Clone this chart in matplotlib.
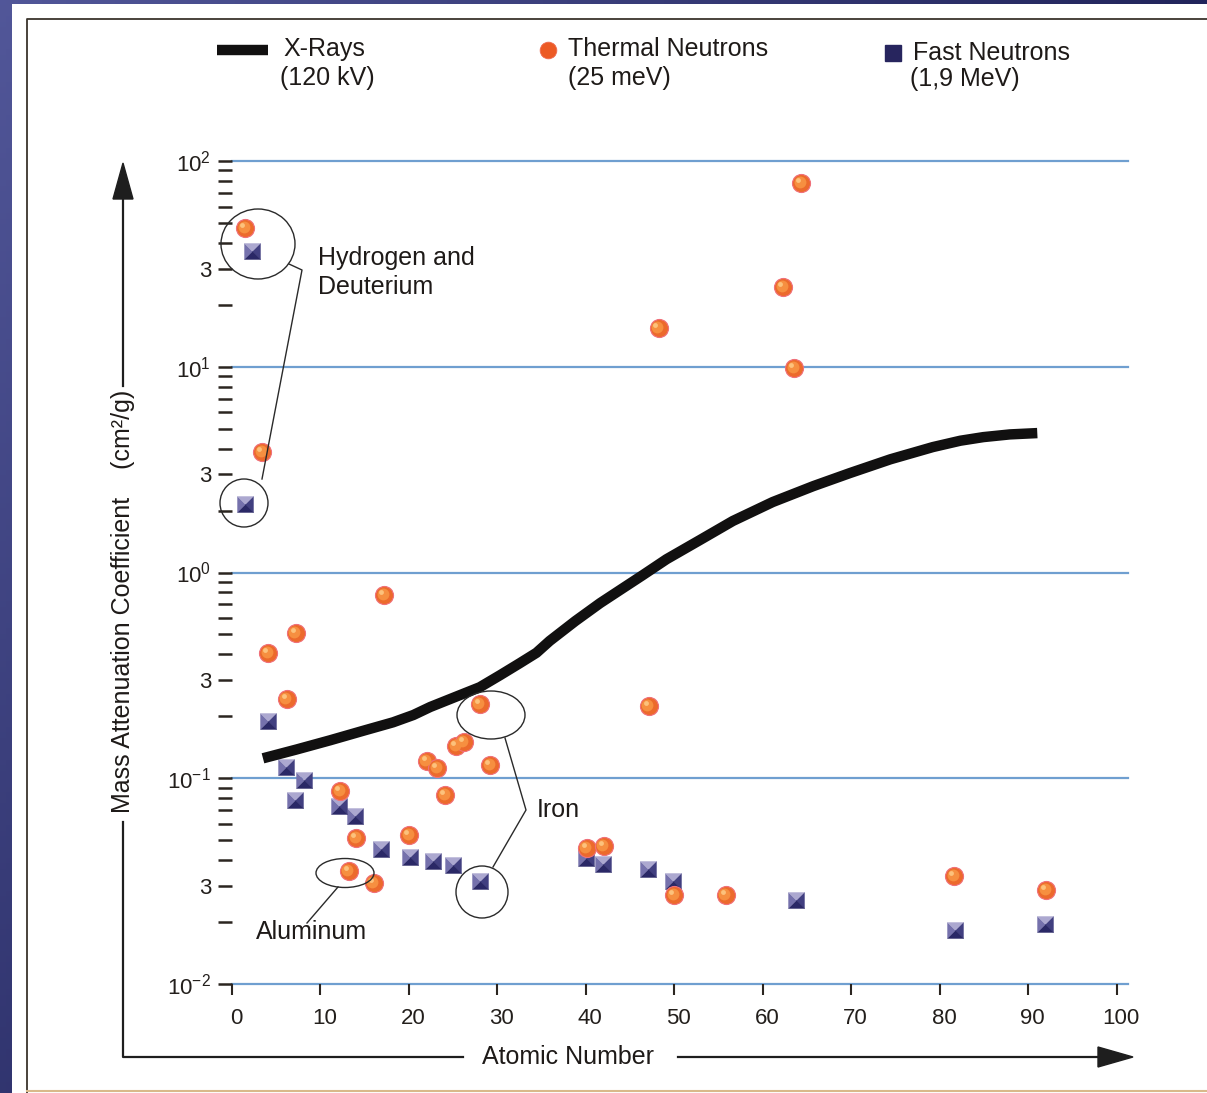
import numpy as np
import matplotlib
matplotlib.use("Agg")
import matplotlib.pyplot as plt
from matplotlib.patches import Ellipse, Rectangle, Polygon
from matplotlib.lines import Line2D
from matplotlib.ticker import FixedLocator, NullFormatter
from matplotlib import transforms

plt.rcParams['font.family'] = ['Liberation Sans', 'DejaVu Sans']
plt.rcParams['mathtext.fontset'] = 'custom'
plt.rcParams['mathtext.rm'] = 'Liberation Sans'

# ---- data ----
# X-rays (120 kV), mass attenuation coefficient vs atomic number
xray_z = [3.5, 7.3, 11.1, 14.8, 18.2, 20.5, 22.4, 25.4, 28.0, 30.3, 32.5, 34.4, 35.9, 38.8, 41.6,
          44.0, 46.4, 49.1, 52.9, 56.6, 61.1, 65.7, 69.8, 74.4, 79.2, 82.3, 84.9, 87.9, 91.0]
xray_mu = [0.125, 0.138, 0.153, 0.170, 0.187, 0.203, 0.222, 0.250, 0.277, 0.317, 0.362, 0.407, 0.465, 0.581, 0.710,
           0.830, 0.97, 1.16, 1.44, 1.78, 2.20, 2.63, 3.04, 3.55, 4.07, 4.37, 4.55, 4.69, 4.76]

# thermal neutrons (25 meV)
thermal_z = [1.5, 3.4, 4.1, 6.2, 7.2, 12.2, 13.2, 14.0, 16.0, 17.2, 20.0, 22.0, 23.2, 24.1,
             25.3, 26.2, 28.0, 29.2, 40.1, 42.0, 47.1, 48.2, 50.0, 55.8, 62.3, 63.5, 64.3, 81.6, 92.0]
thermal_mu = [47.2, 3.85, 0.406, 0.242, 0.507, 0.0865, 0.0353, 0.0512, 0.0309, 0.776, 0.0528, 0.121, 0.112, 0.0828,
              0.143, 0.150, 0.229, 0.116, 0.0457, 0.0467, 0.224, 15.4, 0.027, 0.027, 24.4, 9.86, 78.2, 0.0334, 0.0286]

# fast neutrons (1,9 MeV)
fast_z = [2.3, 1.5, 4.1, 6.1, 7.1, 8.1, 12.1, 13.9, 16.8, 20.1, 22.7, 25.0, 28.0,
          40.0, 41.9, 47.0, 49.8, 63.7, 81.7, 91.9]
fast_mu = [36.5, 2.15, 0.19, 0.113, 0.078, 0.098, 0.073, 0.0655, 0.0452, 0.0413, 0.0395, 0.0378, 0.0316,
           0.0409, 0.0382, 0.0361, 0.0316, 0.0255, 0.0183, 0.0195]

x_ticks = [0, 10, 20, 30, 40, 50, 60, 70, 80, 90, 100]
decades = [0.01, 0.1, 1, 10, 100]
decade_labels = ['$\\mathregular{10^{-2}}$', '$\\mathregular{10^{-1}}$', '$\\mathregular{10^{0}}$',
                 '$\\mathregular{10^{1}}$', '$\\mathregular{10^{2}}$']

W, H = 1207, 1093
fig = plt.figure(figsize=(W / 100, H / 100), dpi=100)


def fx(x):
    return x / W


def fy(y):
    return 1 - y / H


# slide background (navy gradient) and the white page
bg = fig.add_axes([0, 0, 1, 1], zorder=-10)
gy, gx = np.mgrid[0:1:200j, 0:1:200j]
grad = np.clip(1 - 0.9 * gx - 0.6 * gy, 0, 1)
c_dark = np.array([0.11, 0.12, 0.33])
c_light = np.array([0.32, 0.34, 0.60])
img = c_dark + grad[..., None] * (c_light - c_dark)
bg.imshow(img, extent=[0, 1, 0, 1], aspect='auto', origin='upper')
bg.axis('off')
fig.add_artist(Rectangle((fx(12), 0), 1, fy(4), transform=fig.transFigure,
                         facecolor='white', edgecolor='none', zorder=-5))
fig.add_artist(Line2D([fx(27), fx(27), 1], [0, fy(19), fy(19)], transform=fig.transFigure,
                      color='#3a342c', lw=1.3, zorder=-4))
fig.add_artist(Line2D([fx(27), 1], [fy(1091), fy(1091)], transform=fig.transFigure,
                      color='#d9b98a', lw=1.5, zorder=-4))

# ---- main axes ----
ax = fig.add_axes([fx(232), fy(984), fx(1128) - fx(232), fy(161) - fy(984)])
ax.set_facecolor('none')
ax.set_yscale('log')
ax.set_xlim(0, 101.25)
ax.set_ylim(0.01, 100)
for s in ax.spines.values():
    s.set_visible(False)

for d in decades:
    ax.axhline(d, color='#6f9fd0', lw=1.6, zorder=1, clip_on=False)

major = []
labels = []
for d, lab in zip(decades, decade_labels):
    major.append(d)
    labels.append(lab)
    if d < 100:
        major.append(3 * d)
        labels.append('3')
minor = [m * d for d in decades[:-1] for m in (2, 4, 5, 6, 7, 8, 9)]
ax.yaxis.set_major_locator(FixedLocator(major))
ax.set_yticklabels(labels)
ax.yaxis.set_minor_locator(FixedLocator(minor))
ax.yaxis.set_minor_formatter(NullFormatter())
ax.tick_params(axis='y', which='both', direction='out', length=10, width=1.8,
               color='#2b2520', pad=5, labelsize=16, labelcolor='#231f1c')
ax.set_xticks(x_ticks)
ax.tick_params(axis='x', direction='out', length=8, width=1.5, color='#2b2520',
               pad=9, labelsize=16, labelcolor='#231f1c')
shift = transforms.ScaledTranslation(4 / 100, 0, fig.dpi_scale_trans)
for lab in ax.get_xticklabels():
    lab.set_transform(lab.get_transform() + shift)

# fast neutrons: shaded "pyramid" squares
tri_top = [(-1, 1), (1, 1), (0, 0)]
tri_left = [(-1, 1), (-1, -1), (0, 0)]
tri_right = [(1, 1), (1, -1), (0, 0)]
tri_bot = [(-1, -1), (1, -1), (0, 0)]
for verts, col in [(tri_top, '#aca8d0'), (tri_left, '#7571ac'),
                   (tri_right, '#413f80'), (tri_bot, '#2a2866')]:
    ax.plot(fast_z, fast_mu, ls='none', marker=verts, ms=11.5, mfc=col, mec=col, mew=0.3, zorder=3)

# thermal neutrons: shaded orange balls
off1 = transforms.offset_copy(ax.transData, fig=fig, x=-1.0, y=1.0, units='points')
off2 = transforms.offset_copy(ax.transData, fig=fig, x=-2.2, y=2.2, units='points')
ax.plot(thermal_z, thermal_mu, ls='none', marker='o', ms=13, mfc='#ec6a2c', mec='#f0707a', mew=0.8, zorder=4)
ax.plot(thermal_z, thermal_mu, ls='none', marker='o', ms=8.5, mfc='#f68f40', mec='none', zorder=5,
        transform=off1)
ax.plot(thermal_z, thermal_mu, ls='none', marker='o', ms=3.5, mfc='#fcc27c', mec='none', zorder=6,
        transform=off2)

# x-ray curve
ax.plot(xray_z, xray_mu, color='#111010', lw=7.5, solid_capstyle='butt', solid_joinstyle='round', zorder=7)

# ---- annotations (image pixel positions) ----
def px(x, y):
    return (x, H - y)


def ring(cx, cy, rx, ry):
    fig.add_artist(Ellipse(px(cx, cy), 2 * rx, 2 * ry, transform=transforms.IdentityTransform(),
                           facecolor='none', edgecolor='#2a2a2a', lw=1.0, zorder=8))


def leader(pts):
    xs = [p[0] for p in pts]
    ys = [H - p[1] for p in pts]
    fig.add_artist(Line2D(xs, ys, transform=transforms.IdentityTransform(), color='#2a2a2a', lw=1.0, zorder=8))


ring(258, 244, 37, 35)
ring(244, 503, 24, 24)
leader([(289, 264), (302, 270), (262, 479)])
ring(491, 715, 34, 24)
ring(482, 892, 26, 26)
leader([(505, 738), (526, 810), (493, 867)])
ring(345, 873, 29, 14.5)
leader([(338, 887), (307, 923)])

fs = 18
tc = '#1e1a18'
fig.text(fx(318), fy(258), 'Hydrogen and', fontsize=fs, color=tc, va='center', ha='left')
fig.text(fx(318), fy(287), 'Deuterium', fontsize=fs, color=tc, va='center', ha='left')
fig.text(fx(537), fy(810), 'Iron', fontsize=fs, color=tc, va='center', ha='left')
fig.text(fx(256), fy(932), 'Aluminum', fontsize=fs, color=tc, va='center', ha='left')

# ---- legend ----
fig.add_artist(Line2D([fx(217), fx(268)], [fy(50), fy(50)], transform=fig.transFigure,
                      color='#111010', lw=7.5, solid_capstyle='butt'))
fig.text(fx(283), fy(49), 'X-Rays', fontsize=fs, color=tc, va='center', ha='left')
fig.text(fx(280), fy(78), '(120 kV)', fontsize=fs, color=tc, va='center', ha='left')
fig.add_artist(Line2D([fx(548)], [fy(50)], transform=fig.transFigure, ls='none', marker='o',
                      ms=12, mfc='#ec5a24', mec='#ef6a50', mew=0.6))
fig.text(fx(568), fy(49), 'Thermal Neutrons', fontsize=fs, color=tc, va='center', ha='left')
fig.text(fx(568), fy(78), '(25 meV)', fontsize=fs, color=tc, va='center', ha='left')
fig.add_artist(Line2D([fx(893)], [fy(53)], transform=fig.transFigure, ls='none', marker='s',
                      ms=11, mfc='#27255e', mec='#27255e'))
fig.text(fx(913), fy(53), 'Fast Neutrons', fontsize=fs, color=tc, va='center', ha='left')
fig.text(fx(910), fy(79), '(1,9 MeV)', fontsize=fs, color=tc, va='center', ha='left')

# ---- axis titles with arrows ----
ac = '#1e1e1e'
fig.add_artist(Line2D([fx(123), fx(123), fx(463)], [fy(822), fy(1057), fy(1057)],
                      transform=fig.transFigure, color=ac, lw=1.6))
fig.add_artist(Line2D([fx(123), fx(123)], [fy(386), fy(196)], transform=fig.transFigure, color=ac, lw=1.6))
fig.add_artist(Polygon([(fx(113), fy(199)), (fx(133), fy(199)), (fx(123), fy(163))],
                       transform=fig.transFigure, facecolor=ac, edgecolor=ac))
fig.add_artist(Line2D([fx(678), fx(1102)], [fy(1057), fy(1057)], transform=fig.transFigure, color=ac, lw=1.6))
fig.add_artist(Polygon([(fx(1098), fy(1047)), (fx(1098), fy(1067)), (fx(1133), fy(1057))],
                       transform=fig.transFigure, facecolor=ac, edgecolor=ac))
fig.text(fx(568), fy(1057), 'Atomic Number', fontsize=fs, color=tc, va='center', ha='center')
fig.text(fx(123), fy(601), 'Mass Attenuation Coefficient    (cm²/g)', fontsize=fs, color=tc,
         va='center', ha='center', rotation=90)

fig.savefig('out.png', dpi=100)
